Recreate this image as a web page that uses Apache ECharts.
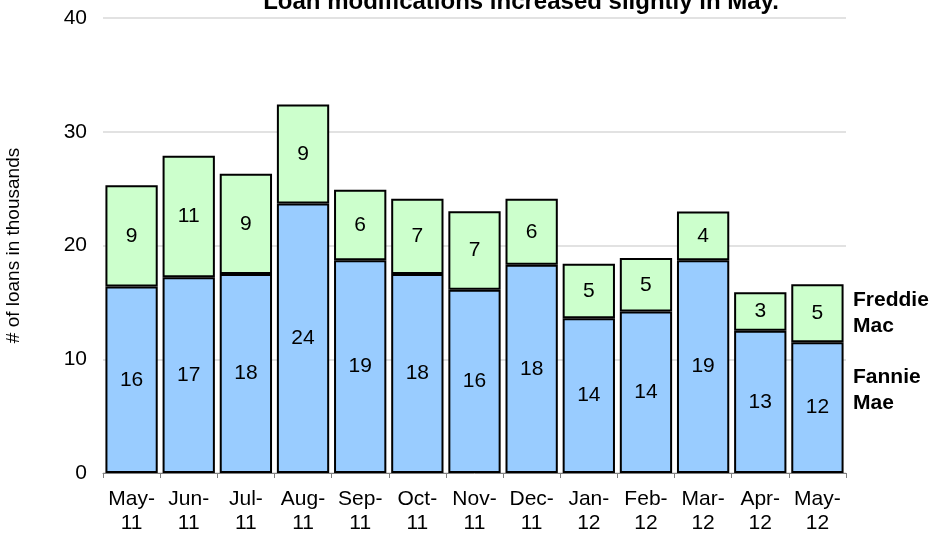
<!DOCTYPE html>
<html>
<head>
<meta charset="utf-8">
<script src="https://cdn.jsdelivr.net/npm/echarts@6/dist/echarts.min.js"></script>
<style>html,body{margin:0;padding:0;background:#fff}#c{width:936px;height:535px}</style>
</head>
<body>
<div id="c"></div>
<script>
var categories = ["May-\n11","Jun-\n11","Jul-\n11","Aug-\n11","Sep-\n11","Oct-\n11","Nov-\n11","Dec-\n11","Jan-\n12","Feb-\n12","Mar-\n12","Apr-\n12","May-\n12"];
var fannieMae = [16.4, 17.2, 17.5, 23.7, 18.7, 17.5, 16.1, 18.3, 13.6, 14.2, 18.7, 12.5, 11.5];
var freddieMac = [8.9, 10.7, 8.8, 8.7, 6.2, 6.6, 6.9, 5.8, 4.8, 4.7, 4.3, 3.4, 5.1];
var yTicks = [0, 10, 20, 30, 40];
var titleText = "Loan modifications increased slightly in May.";
var yAxisName = "# of loans in thousands";
var seriesNames = ["Fannie Mae", "Freddie Mac"];

var FONT = "Liberation Sans, Arial, sans-serif";
var chart = echarts.init(document.getElementById('c'), null, {renderer: 'canvas'});
var lbl = {show: true, position: 'inside', color: '#000', fontSize: 21, fontFamily: FONT,
  formatter: function(p){ return Math.round(p.value); }};
chart.setOption({
  animation: false,
  backgroundColor: '#fff',
  title: {text: titleText, left: 516, textAlign: 'center', top: -15,
    textStyle: {fontSize: 24, fontWeight: 'bold', fontFamily: FONT, color: '#000'}},
  grid: {left: 103, right: 90, top: 18, bottom: 62, containLabel: false, outerBoundsMode: 'none'},
  xAxis: {type: 'category', data: categories,
    axisLine: {lineStyle: {color: '#808080', width: 1}},
    axisTick: {show: true, length: 5, lineStyle: {color: '#808080'}},
    axisLabel: {color: '#000', fontSize: 21, fontFamily: FONT, lineHeight: 24, margin: 14, interval: 0}},
  yAxis: {type: 'value', min: yTicks[0], max: yTicks[yTicks.length-1], interval: 10,
    name: yAxisName, nameLocation: 'middle', nameGap: 80, nameRotate: 90,
    nameTextStyle: {fontSize: 19, fontFamily: FONT, color: '#000'},
    axisLine: {show: false}, axisTick: {show: false},
    axisLabel: {color: '#000', fontSize: 21, fontFamily: FONT, margin: 16},
    splitLine: {lineStyle: {color: '#d9d9d9', width: 1.5}}},
  series: [
    {name: seriesNames[0], type: 'bar', stack: 't', data: fannieMae, barCategoryGap: '8.5%',
      itemStyle: {color: '#99CCFF', borderColor: '#000', borderWidth: 2}, label: lbl},
    {name: seriesNames[1], type: 'bar', stack: 't', data: freddieMac,
      itemStyle: {color: '#CCFFCC', borderColor: '#000', borderWidth: 2}, label: lbl}
  ],
  graphic: [
    {type: 'text', left: 853, top: 287, style: {text: 'Freddie\nMac', font: 'bold 21px ' + FONT, fill: '#000', lineHeight: 26}},
    {type: 'text', left: 853, top: 364, style: {text: 'Fannie\nMae', font: 'bold 21px ' + FONT, fill: '#000', lineHeight: 26}}
  ]
});
</script>
</body>
</html>
